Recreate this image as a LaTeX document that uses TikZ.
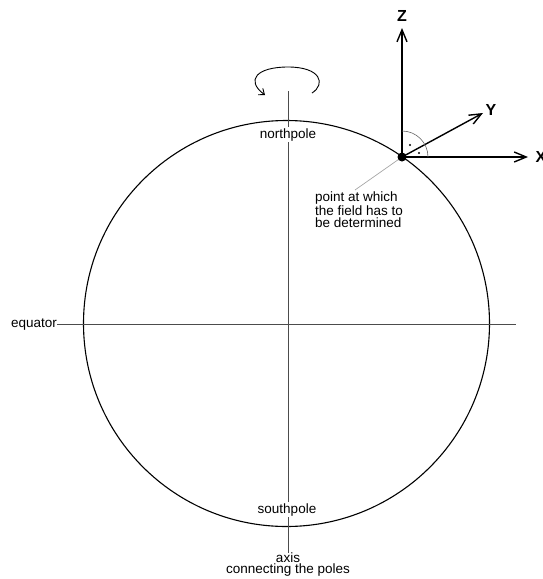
\documentclass[tikz,border=0pt]{standalone}
\usepackage{fontspec}
\setmainfont{Liberation Sans}
\usetikzlibrary{arrows.meta}

\begin{document}
\begin{tikzpicture}[x=1pt,y=-1pt,
  lbl/.style={font=\fontsize{13.5}{11.5}\selectfont, inner sep=0pt},
  axlbl/.style={font=\fontsize{16}{16}\selectfont\bfseries, inner sep=0pt},
  vec/.style={-{Straight Barb[length=12pt,width=10pt]}, line width=1.4pt},
  guide/.style={draw=black!70, line width=1pt}
]
\useasboundingbox (0,0) rectangle (543,579);
\coordinate (C) at (286.5,323.5);
\coordinate (P) at (402,157);

% globe, equator and the rotation axis
\draw[line width=1.1pt] (C) circle (203);
\node[lbl, anchor=base east] (eq) at (57,327.5) {equator};
\coordinate (eqend) at (516,324);
\draw[guide] (eq.east |- eqend) -- (eqend);

\coordinate (axtop) at (288,91);
\node[lbl, align=center, anchor=north] (axlbl) at (288,552.5) {axis\\connecting the poles};
\draw[guide] (axtop) -- (axlbl.north);
\node[lbl, fill=white, inner sep=1.5pt, anchor=base] (np) at (288,138) {northpole};
\node[lbl, fill=white, inner sep=1.5pt, anchor=base] (sp) at (287,513) {southpole};

% sense of rotation
\draw[line width=0.9pt, -{Straight Barb[length=5pt,width=8pt]}]
  (312,93) .. controls (326,84) and (321,67) .. (288,67)
  .. controls (257,67) and (245,80) .. (265,95);

% local frame at the field point
\coordinate (zt) at (402,28);
\coordinate (yt) at (483,113);
\coordinate (xt) at (528,157);
\node[axlbl] (zl) at (402,16) {Z};
\node[axlbl] (yl) at (491,110) {Y};
\node[axlbl, anchor=west] (xl) at (535.5,157) {X};
\draw[vec] (P) -- (zt);
\draw[vec] (P) -- (yt);
\draw[vec] (P) -- (xt);
\draw[black!60, line width=0.6pt] (P) ++(26,0) arc[start angle=0, end angle=-90, radius=26];
\fill (410,145) circle (1.1);
\fill (419,153) circle (1.1);

\coordinate (lead) at (355,190);
\draw[black!35, line width=0.7pt] (P) -- (lead);
\node[lbl, align=left, anchor=north west] (note) at (315,192) {point at which\\the field has to\\be determined};
\fill (P) circle (4.5);
\end{tikzpicture}
\end{document}
